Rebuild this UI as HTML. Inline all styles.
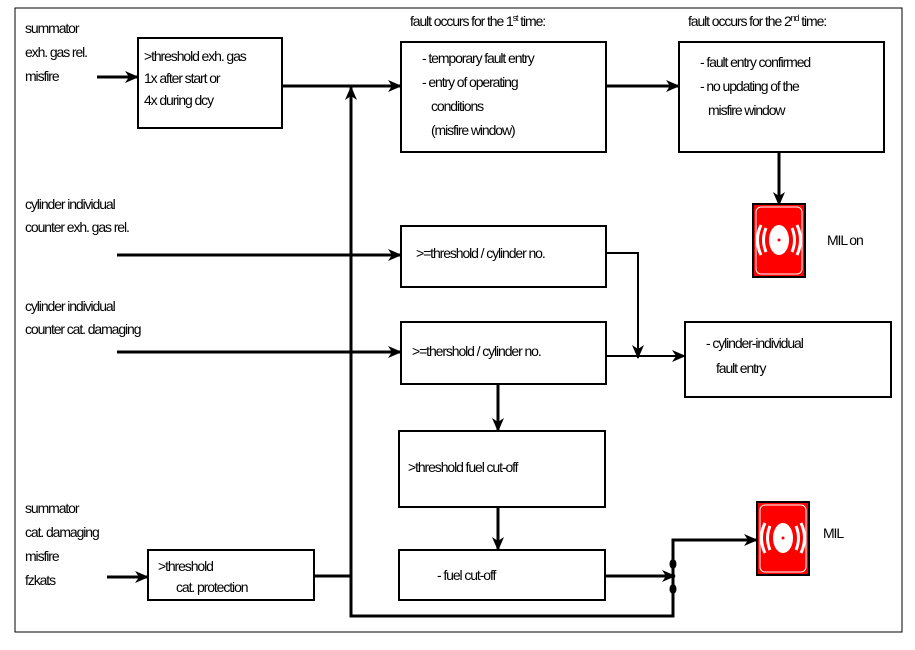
<!DOCTYPE html>
<html><head><meta charset="utf-8"><style>
html,body{margin:0;padding:0;background:#fff}
svg text{font-family:"Liberation Sans",sans-serif;font-size:14px;letter-spacing:-1.1px;fill:#000}
</style></head><body>
<svg width="915" height="645" viewBox="0 0 915 645" xmlns="http://www.w3.org/2000/svg">
<defs>
<marker id="a" markerWidth="14" markerHeight="12" refX="13" refY="6" orient="auto" markerUnits="userSpaceOnUse">
<path d="M0,0 L14,6 L0,12 L4,6 z" fill="#000"/></marker>
<g id="mil">
<rect x="0" y="0" width="52" height="73" fill="#f00" stroke="#000" stroke-width="2"/>
<rect x="3" y="3" width="46" height="67" rx="5" fill="none" stroke="#fff" stroke-width="1"/>
<ellipse cx="26" cy="36" rx="10" ry="15" fill="#fff"/>
<circle cx="26" cy="36" r="1.5" fill="#f00"/>
<path d="M13,24 Q8,36 13,48" stroke="#fff" stroke-width="3" fill="none"/>
<path d="M39,24 Q44,36 39,48" stroke="#fff" stroke-width="3" fill="none"/>
<path d="M8,21 Q1,36 8,51" stroke="#fff" stroke-width="3" fill="none"/>
<path d="M44,21 Q51,36 44,51" stroke="#fff" stroke-width="3" fill="none"/>
</g>
</defs>
<rect x="15" y="8" width="887" height="624" fill="none" stroke="#000" stroke-width="1"/>
<g fill="none" stroke="#000" stroke-width="2">
<rect x="138" y="38" width="144" height="90"/>
<rect x="401" y="42" width="205" height="110"/>
<rect x="679" y="42" width="205" height="110"/>
<rect x="401" y="226" width="205" height="61"/>
<rect x="401" y="322" width="205" height="62"/>
<rect x="685" y="322" width="206" height="75"/>
<rect x="399" y="431" width="206" height="76"/>
<rect x="399" y="550" width="206" height="50"/>
<rect x="148" y="550" width="166" height="50"/>
</g>
<g fill="none" stroke="#000" stroke-width="3">
<line x1="97" y1="77" x2="138" y2="77" marker-end="url(#a)"/>
<line x1="282" y1="86" x2="401" y2="86" marker-end="url(#a)"/>
<polyline points="351,86 351,616 673,616 673,540 757,540" marker-end="url(#a)"/>
<line x1="351" y1="110" x2="351" y2="87" marker-end="url(#a)"/>
<line x1="314" y1="576" x2="351" y2="576"/>
<line x1="107" y1="577" x2="148" y2="577" marker-end="url(#a)"/>
<line x1="605" y1="576" x2="675" y2="576" marker-end="url(#a)"/>
<line x1="606" y1="86" x2="679" y2="86" marker-end="url(#a)"/>
<line x1="779" y1="152" x2="779" y2="205" marker-end="url(#a)"/>
<line x1="117" y1="255" x2="401" y2="255" marker-end="url(#a)"/>
<line x1="117" y1="352" x2="401" y2="352" marker-end="url(#a)"/>
<line x1="498" y1="384" x2="498" y2="431" marker-end="url(#a)"/>
<line x1="498" y1="507" x2="498" y2="550" marker-end="url(#a)"/>
</g>
<g fill="none" stroke="#000" stroke-width="2">
<polyline points="606,253 638,253 638,358" marker-end="url(#a)"/>
<line x1="606" y1="356" x2="685" y2="356" marker-end="url(#a)"/>
</g>
<ellipse cx="673" cy="564" rx="3.5" ry="5" fill="#000"/>
<ellipse cx="673" cy="589" rx="3.5" ry="5" fill="#000"/>
<use href="#mil" x="753" y="204"/>
<use href="#mil" x="757" y="502"/>
<text x="25" y="33">summator</text>
<text x="25" y="57">exh. gas rel.</text>
<text x="25" y="81">misfire</text>
<text x="144" y="61">&gt;threshold exh. gas</text>
<text x="144" y="83">1x after start or</text>
<text x="144" y="105">4x during dcy</text>
<text x="410" y="26">fault occurs for the 1<tspan font-size="9" dy="-5">st</tspan><tspan dy="5"> time:</tspan></text>
<text x="688" y="26">fault occurs for the 2<tspan font-size="9" dy="-5">nd</tspan><tspan dy="5"> time:</tspan></text>
<text x="422" y="63">- temporary fault entry</text>
<text x="422" y="87">- entry of operating</text>
<text x="431" y="111">conditions</text>
<text x="431" y="135">(misfire window)</text>
<text x="700" y="67">- fault entry confirmed</text>
<text x="700" y="91">- no updating of the</text>
<text x="708" y="115">misfire window</text>
<text x="25" y="209">cylinder individual</text>
<text x="25" y="232">counter exh. gas rel.</text>
<text x="416" y="258">&gt;=threshold / cylinder no.</text>
<text x="25" y="311">cylinder individual</text>
<text x="25" y="334">counter cat. damaging</text>
<text x="412" y="356">&gt;=thershold / cylinder no.</text>
<text x="706" y="348">- cylinder-individual</text>
<text x="716" y="373">fault entry</text>
<text x="408" y="472">&gt;threshold fuel cut-off</text>
<text x="437" y="580">- fuel cut-off</text>
<text x="25" y="513">summator</text>
<text x="25" y="537">cat. damaging</text>
<text x="25" y="561">misfire</text>
<text x="25" y="585">fzkats</text>
<text x="158" y="571">&gt;threshold</text>
<text x="176" y="592">cat. protection</text>
<text x="827" y="245">MIL on</text>
<text x="823" y="538">MIL</text>
</svg>
</body></html>
